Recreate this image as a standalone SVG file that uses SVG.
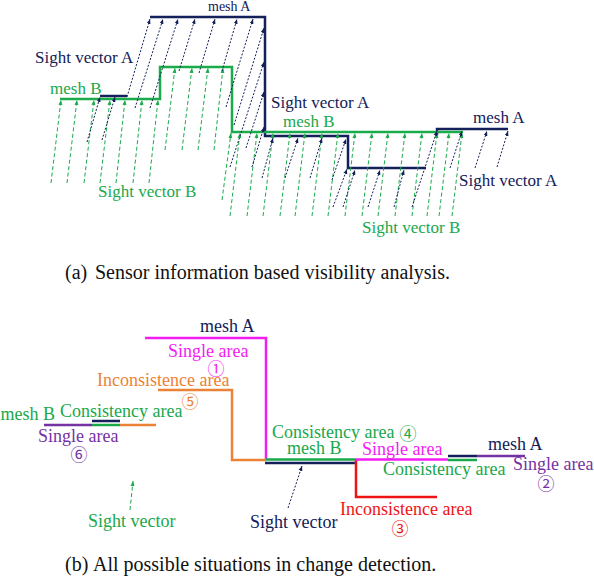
<svg xmlns="http://www.w3.org/2000/svg" width="594" height="586" viewBox="0 0 594 586" font-family="'Liberation Serif','DejaVu Serif',serif">
<style>
.tx{font-family:"Liberation Serif","DejaVu Serif",serif}
.t17{font-size:17px}
.t18{font-size:18px}
.cap{font-size:20px;fill:#111}
.cd{font-family:"Noto Sans CJK JP","DejaVu Sans",sans-serif;font-size:17px;text-anchor:middle}
.nv{fill:#13205a}.gr{fill:#1aa84a}.mg{fill:#f21df2}.og{fill:#ec8236}.pu{fill:#7432a4}.rd{fill:#ee1414}
.m{fill:none;stroke-width:2.5}
.ra{stroke:#13205a;stroke-width:1;stroke-dasharray:2 1.6;fill:none;marker-end:url(#an)}
.rb{stroke:#1aab4b;stroke-width:1;stroke-dasharray:4 2.5;fill:none;marker-end:url(#ag)}
</style>
<defs>
<marker id="an" viewBox="0 0 10 10" refX="10" refY="5" markerWidth="5" markerHeight="5" markerUnits="userSpaceOnUse" orient="auto"><path d="M0,1 L10,5 L0,9 z" fill="#13205a"/></marker>
<marker id="ag" viewBox="0 0 10 10" refX="10" refY="5" markerWidth="5" markerHeight="5" markerUnits="userSpaceOnUse" orient="auto"><path d="M0,1 L10,5 L0,9 z" fill="#1aab4b"/></marker>
</defs>
<rect width="594" height="586" fill="#fff"/>

<g id="meshA-a">
<path class="m" stroke="#13205a" d="M100,96 H127"/>
<path class="m" stroke="#13205a" d="M150,17 H265 V136 H348 V168 H426"/>
<path class="m" stroke="#13205a" d="M437,135 V129 H508"/>
</g>
<g id="meshB-a">
<path class="m" stroke="#1aab4b" d="M60,99 H160 V67 H232 V132 H463"/>
</g>

<g id="connectors">
<line class="rb" x1="51" y1="183" x2="61" y2="100"/>
<line class="rb" x1="67" y1="183" x2="77" y2="100"/>
<line class="rb" x1="84" y1="183" x2="94" y2="100"/>
<line class="rb" x1="100" y1="183" x2="110" y2="100"/>
<line class="rb" x1="116" y1="183" x2="125" y2="100"/>
<line class="rb" x1="133" y1="183" x2="142" y2="100"/>
<line class="rb" x1="149" y1="183" x2="158" y2="100"/>
<line class="rb" x1="165" y1="150" x2="175" y2="68"/>
<line class="rb" x1="182" y1="150" x2="192" y2="68"/>
<line class="rb" x1="198" y1="150" x2="208" y2="68"/>
<line class="rb" x1="214" y1="150" x2="223" y2="68"/>
<line class="rb" x1="222" y1="200" x2="231" y2="133"/>
<line class="rb" x1="230" y1="216" x2="240" y2="133"/>
<line class="rb" x1="247" y1="216" x2="257" y2="133"/>
<line class="rb" x1="263" y1="216" x2="273" y2="133"/>
<line class="rb" x1="280" y1="216" x2="290" y2="133"/>
<line class="rb" x1="295" y1="216" x2="305" y2="133"/>
<line class="rb" x1="312" y1="216" x2="322" y2="133"/>
<line class="rb" x1="328" y1="216" x2="338" y2="133"/>
<line class="rb" x1="345" y1="216" x2="355" y2="133"/>
<line class="rb" x1="362" y1="216" x2="372" y2="133"/>
<line class="rb" x1="378" y1="216" x2="388" y2="133"/>
<line class="rb" x1="395" y1="216" x2="405" y2="133"/>
<line class="rb" x1="412" y1="216" x2="422" y2="133"/>
<line class="rb" x1="427" y1="216" x2="437" y2="133"/>
<line class="rb" x1="439" y1="216" x2="449" y2="133"/>
<line class="rb" x1="452" y1="216" x2="462" y2="133"/>
<line class="ra" x1="87" y1="142" x2="100" y2="97"/>
<line class="ra" x1="102" y1="140" x2="115" y2="97"/>
<line class="ra" x1="127" y1="97" x2="150" y2="19"/>
<line class="ra" x1="135" y1="108" x2="163" y2="19"/>
<line class="ra" x1="150" y1="108" x2="178" y2="19"/>
<line class="ra" x1="179" y1="71" x2="195" y2="19"/>
<line class="ra" x1="199" y1="73" x2="215" y2="19"/>
<line class="ra" x1="222" y1="71" x2="237" y2="19"/>
<line class="ra" x1="226" y1="107" x2="253" y2="19"/>
<line class="ra" x1="234" y1="125" x2="264" y2="28"/>
<line class="ra" x1="230" y1="167" x2="264" y2="62"/>
<line class="ra" x1="246" y1="148" x2="264" y2="92"/>
<line class="ra" x1="252" y1="167" x2="264" y2="127"/>
<line class="ra" x1="262" y1="178" x2="273" y2="138"/>
<line class="ra" x1="285" y1="178" x2="298" y2="138"/>
<line class="ra" x1="310" y1="178" x2="322" y2="138"/>
<line class="ra" x1="332" y1="180" x2="346" y2="139"/>
<line class="ra" x1="333" y1="207" x2="347" y2="169"/>
<line class="ra" x1="343" y1="207" x2="355" y2="170"/>
<line class="ra" x1="368" y1="207" x2="380" y2="170"/>
<line class="ra" x1="394" y1="207" x2="404" y2="170"/>
<line class="ra" x1="412" y1="207" x2="437" y2="131"/>
<line class="ra" x1="450" y1="168" x2="462" y2="131"/>
<line class="ra" x1="475" y1="168" x2="487" y2="131"/>
<line class="ra" x1="497" y1="167" x2="508" y2="131"/>
<line class="rb" x1="130" y1="510" x2="133" y2="481"/>
<line class="ra" x1="288" y1="508" x2="302" y2="466"/>
</g>

<g id="labels-a">
<text class="tx nv" x="208" y="11" font-size="14">mesh A</text>
<text class="tx t17 nv" x="35" y="63">Sight vector A</text>
<text class="tx t17 gr" x="50" y="94">mesh B</text>
<text class="tx t17 gr" x="98" y="197">Sight vector B</text>
<text class="tx t17 nv" x="271" y="108">Sight vector A</text>
<text class="tx t17 gr" x="283" y="127">mesh B</text>
<text class="tx t17 nv" x="473" y="123">mesh A</text>
<text class="tx t17 nv" x="459" y="186">Sight vector A</text>
<text class="tx t17 gr" x="362" y="233">Sight vector B</text>
</g>
<g id="caption-a">
<text class="tx cap" x="65" y="279">(a)</text>
<text class="tx cap" x="95" y="279">Sensor information based visibility analysis.</text>
</g>

<g id="mesh-b-lines">
<path class="m" stroke="#f21df2" d="M145,338 H266 V460"/>
<path class="m" stroke="#ec8236" d="M158,390 H232 V460 H266"/>
<path class="m" stroke="#7432a4" d="M44,425 H92"/>
<path class="m" stroke="#13205a" d="M92,421 H120"/>
<path class="m" stroke="#1aa84a" d="M92,425 H120"/>
<path class="m" stroke="#ec8236" d="M120,425 H156"/>
<path class="m" stroke="#13205a" d="M265,463 H355"/>
<path class="m" stroke="#1aa84a" d="M266,459.5 H355"/>
<path class="m" stroke="#ee1414" d="M356,460 V497 H437"/>
<path class="m" stroke="#f21df2" d="M355,459.5 H448"/>
<path class="m" stroke="#13205a" d="M448,456 H477"/>
<path class="m" stroke="#1aa84a" d="M448,460 H477"/>
<path class="m" stroke="#7432a4" d="M477,456 H525"/>
</g>
<g id="area1">
<text class="tx t18 nv" x="200" y="332">mesh A</text>
<text class="tx t18 mg" x="168" y="357">Single area</text>
<text class="cd mg" x="216" y="374.5">①</text>
</g>
<g id="area5">
<text class="tx t18 og" x="97" y="386">Inconsistence area</text>
<text class="cd og" x="190" y="408">⑤</text>
</g>
<g id="area-left">
<text class="tx t18 gr" x="0.5" y="420">mesh B</text>
<text class="tx t18 gr" x="60" y="417">Consistency area</text>
</g>
<g id="area6">
<text class="tx t18 pu" x="38" y="442">Single area</text>
<text class="cd pu" x="79" y="461">⑥</text>
</g>
<g id="sight-left">
<text class="tx t18 gr" x="88" y="527">Sight vector</text>
</g>
<g id="area4">
<text class="tx t18 gr" x="272" y="438">Consistency area</text>
<text class="cd gr" x="408" y="439.5">④</text>
<text class="tx t18 gr" x="287" y="454">mesh B</text>
</g>
<g id="area-single-mid">
<text class="tx t18 mg" x="362" y="455">Single area</text>
</g>
<g id="area2">
<text class="tx t18 nv" x="488" y="450">mesh A</text>
<text class="tx t18 gr" x="383" y="475">Consistency area</text>
<text class="tx t18 pu" x="513" y="470">Single area</text>
<text class="cd pu" x="546" y="490">②</text>
</g>
<g id="area3">
<text class="tx t18 nv" x="250" y="528">Sight vector</text>
<text class="tx t18 rd" x="340" y="515">Inconsistence area</text>
<text class="cd rd" x="400" y="535">③</text>
</g>
<g id="caption-b">
<text class="tx cap" x="65" y="571">(b)</text>
<text class="tx cap" x="93" y="571">All possible situations in change detection.</text>
</g>
</svg>
